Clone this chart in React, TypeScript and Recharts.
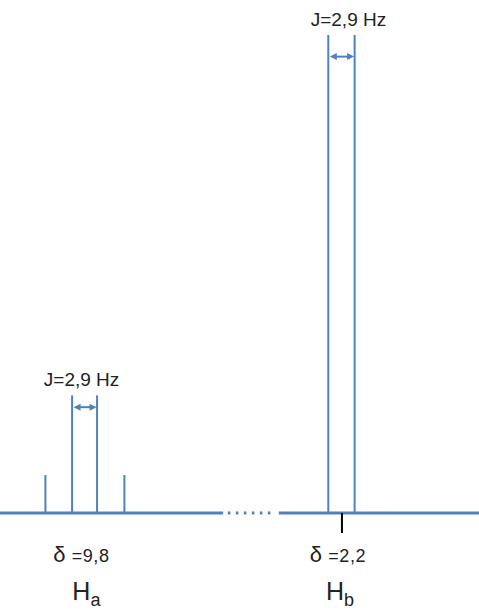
import { ComposedChart, Bar, XAxis, YAxis, ReferenceLine } from "recharts";

// chemical shifts (schematic ppm axis, high field to the right)
const shiftValues = [9.8, 2.2];
const shiftLabels = ["δ =9,8", "δ =2,2"];
const protonNames = ["a", "b"];
const markedShift = 2.2;

// line positions (ppm) and relative intensities
const haPeaks = [10.97, 10.18, 9.44, 8.63];
const haHeights = [1, 3.1, 3.1, 1];
const hbPeaks = [2.59, 1.81];
const hbHeights = [12.6, 12.6];

// coupling arrows: between the two inner lines of each multiplet
const couplingText = "J=2,9 Hz";
const couplingFrom = [10.18, 2.59];
const couplingTo = [9.44, 1.81];
const couplingLevel = [2.79, 12.03];

// baseline pieces: solid, dotted (axis break), solid
const baseStart = [12.33, 5.58, 4.07];
const baseEnd = [5.72, 4.24, -1.86];
const baseDotted = [false, true, false];

const BLUE = "#4f81bd";
const FONT = "'Liberation Sans', Arial, sans-serif";

const peaks = [
  ...haPeaks.map((ppm, i) => ({ ppm, h: haHeights[i] })),
  ...hbPeaks.map((ppm, i) => ({ ppm, h: hbHeights[i] })),
];

const labelOffsets = [
  { dx: -3.5, dy: -21 },
  { dx: 6.5, dy: -30.5 },
];

function ShiftTick(props: any) {
  const { x, y, payload } = props;
  const i = shiftValues.indexOf(payload.value);
  const label = shiftLabels[i];
  return (
    <g>
      {payload.value === markedShift && (
        <line x1={x} y1={y - 20} x2={x} y2={y} stroke="#000" strokeWidth={2} />
      )}
      <text
        x={x - 4}
        y={y + 29}
        textAnchor="middle"
        fontFamily={FONT}
        fontSize={18}
        letterSpacing={0.6}
        fill="#222"
      >
        <tspan fontSize={22}>{label.charAt(0)}</tspan>
        <tspan>{label.slice(1)}</tspan>
      </text>
      <text x={x + (i === 0 ? 1 : -2)} y={y + 67} textAnchor="middle" fontFamily={FONT} fill="#222">
        <tspan fontSize={25}>H</tspan>
        <tspan fontSize={18} dy={6}>{protonNames[i]}</tspan>
      </text>
    </g>
  );
}

function makeArrow(k: number) {
  return (props: any) => {
    const { x1, y1, x2 } = props;
    const left = Math.min(x1, x2) + 1;
    const right = Math.max(x1, x2) - 1;
    const y = y1;
    const mid = (left + right) / 2;
    return (
      <g>
        <line x1={left + 4} y1={y} x2={right - 4} y2={y} stroke={BLUE} strokeWidth={2} />
        <polygon points={`${left},${y} ${left + 7},${y - 3.5} ${left + 7},${y + 3.5}`} fill={BLUE} />
        <polygon points={`${right},${y} ${right - 7},${y - 3.5} ${right - 7},${y + 3.5}`} fill={BLUE} />
        <text
          x={mid + labelOffsets[k].dx}
          y={y + labelOffsets[k].dy}
          textAnchor="middle"
          fontFamily={FONT}
          fontSize={19}
          fill="#222"
        >
          {couplingText}
        </text>
      </g>
    );
  };
}

export default function App() {
  return (
    <div style={{ position: "absolute", left: 0, top: 0 }}>
      <ComposedChart
        width={479}
        height={610}
        data={peaks}
        margin={{ top: 35, right: 0, bottom: 0, left: 0 }}
      >
        <XAxis
          dataKey="ppm"
          type="number"
          domain={[-1.86, 12.33]}
          reversed
          allowDataOverflow
          ticks={shiftValues}
          interval={0}
          axisLine={false}
          tickLine={false}
          tickSize={20}
          tickMargin={0}
          height={97}
          tick={<ShiftTick />}
        />
        <YAxis hide domain={[0, 12.6]} />
        <Bar dataKey="h" fill={BLUE} barSize={2} isAnimationActive={false} />
        {baseStart.map((s, i) => (
          <ReferenceLine
            key={"b" + i}
            segment={[
              { x: s, y: 0 },
              { x: baseEnd[i], y: 0 },
            ]}
            stroke={BLUE}
            strokeWidth={3}
            strokeDasharray={baseDotted[i] ? "2.5 5.5" : undefined}
          />
        ))}
        {couplingFrom.map((f, k) => (
          <ReferenceLine
            key={"j" + k}
            segment={[
              { x: f, y: couplingLevel[k] },
              { x: couplingTo[k], y: couplingLevel[k] },
            ]}
            stroke={BLUE}
            shape={makeArrow(k)}
          />
        ))}
      </ComposedChart>
    </div>
  );
}
